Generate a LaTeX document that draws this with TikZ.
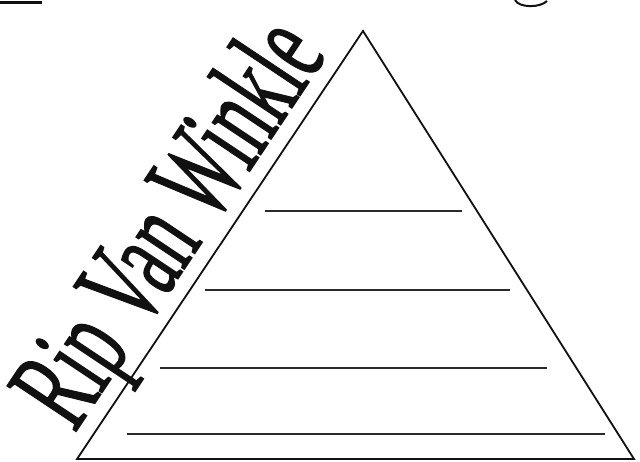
\documentclass[tikz,border=0pt]{standalone}
\usepackage{fontspec}
\setmainfont{Liberation Serif}
\newfontfamily\heavyfont[FakeBold=1.2]{Liberation Serif}
\usepackage{tikz}
\usetikzlibrary{calc}
\usepackage{xcolor}
\definecolor{inkC}{HTML}{111111}
\definecolor{penC}{HTML}{2A2A2A}
\tikzset{
  edge/.style={draw=inkC, line width=1.8pt, line join=miter},
  rule/.style={draw=penC, line width=2.8pt},
  title/.style={font=\heavyfont\fontsize{126}{128}\selectfont, text=inkC, inner sep=0pt, anchor=base, rotate=56.3}
}
\begin{document}
\begin{tikzpicture}[x=1pt, y=-1pt]
  \useasboundingbox (0,0) rectangle (640,462);

  % ── Pyramid ──
  \coordinate (apex) at (363,31);
  \coordinate (bl) at (77,459);
  \coordinate (br) at (634,459);
  \draw[edge] (apex) -- (bl) -- (br) -- cycle;

  % ── Writing lines ──
  \foreach \n/\xa/\xb/\y in {r1/265/462/211, r2/205/510/290, r3/160/547/368, r4/127/605/434} {
    \coordinate (\n a) at (\xa,\y);
    \coordinate (\n b) at (\xb,\y);
    \draw[rule] (\n a) -- (\n b);
  }

  % ── Title ──
  \node[title] (ttl) at (201,244) {\scalebox{0.565}[1]{Rip Van Winkle}};

  % ── Page bits ──
  \draw[rule, draw=inkC] (0,2.5) -- (42,2.5);
  \draw[inkC, line width=2pt] (515,0) .. controls (519,8) and (540,8) .. (547,1);
\end{tikzpicture}
\end{document}
